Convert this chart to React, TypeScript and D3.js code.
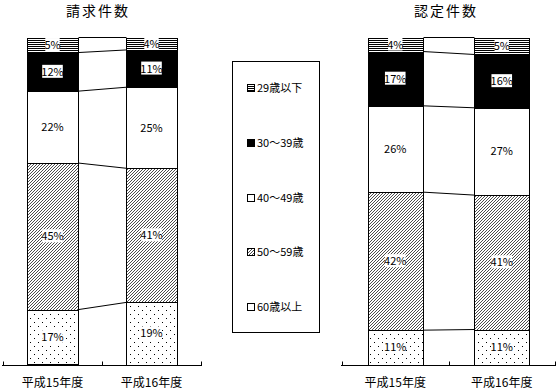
import React from "react";
import * as d3 from "d3";

const ageGroups = ["29歳以下", "30～39歳", "40～49歳", "50～59歳", "60歳以上"];
const years = ["平成15年度", "平成16年度"];
const claimTitle = "請求件数";
const certTitle = "認定件数";
// values per year, stacked top (29歳以下) to bottom (60歳以上)
const claim15 = [4.6, 11.8, 22.0, 44.8, 16.8];
const claim16 = [3.8, 11.4, 24.8, 41.0, 19.0];
const cert15 = [4.3, 16.6, 26.4, 42.2, 10.5];
const cert16 = [5.2, 16.3, 26.7, 41.1, 10.7];
const claimLabels15 = ["5%", "12%", "22%", "45%", "17%"];
const claimLabels16 = ["4%", "11%", "25%", "41%", "19%"];
const certLabels15 = ["4%", "17%", "26%", "42%", "11%"];
const certLabels16 = ["5%", "16%", "27%", "41%", "11%"];

const fills = ["url(#pHoriz)", "#000", "#fff", "url(#pDiag)", "url(#pDots)"];
const FONT = "'Noto Sans CJK JP', 'DejaVu Sans', sans-serif";

const y = d3.scaleLinear().domain([0, 100]).range([364.5, 37.5]);

function stack(vals: number[]) {
  const out: [number, number][] = [];
  let top = 100;
  vals.forEach((v) => {
    out.push([top, top - v]);
    top -= v;
  });
  return out;
}

function Chart({ x0, x1, title, data, labels, titleX }: any) {
  const xs = d3.scalePoint<string>().domain(years).range([x0, x1]).padding(0.5);
  const step = xs.step();
  const bw = Math.round(step * 0.52);
  const stacks = data.map((d: number[]) => stack(d));
  const axisY = 365.5;
  return (
    <g>
      <text x={titleX} y={16} fontSize={14} textAnchor="middle" fontFamily={FONT} letterSpacing={2}>
        {title}
      </text>
      {[0, 1, 2, 3, 4].map((i: number) => {
        const v0 = i === 0 ? 100 : stacks[0][i - 1][1];
        const v1 = i === 0 ? 100 : stacks[1][i - 1][1];
        const xa = Math.round(xs(years[0])! + bw / 2) + 0.5;
        const xb = Math.round(xs(years[1])! - bw / 2) + 0.5;
        return <line key={"c" + i} x1={xa} x2={xb} y1={y(v0)} y2={y(v1)} stroke="#000" strokeWidth={1} />;
      })}
      {years.map((yr, j) => {
        const cx = xs(yr)!;
        const left = Math.round(cx - bw / 2) + 0.5;
        return (
          <g key={yr}>
            {stacks[j].map((s: [number, number], i: number) => (
              <rect
                key={i}
                x={left}
                y={Math.round(y(s[0])) + 0.5}
                width={bw}
                height={Math.round(y(s[1])) - Math.round(y(s[0]))}
                fill={fills[i]}
                stroke="#000"
                strokeWidth={1}
              />
            ))}
            {stacks[j].map((s: [number, number], i: number) => {
              const lbl = labels[j][i];
              const my = (y(s[0]) + y(s[1])) / 2;
              const w = lbl.length * 6.2 + 2;
              return (
                <g key={"l" + i}>
                  <rect x={cx - w / 2} y={my - 7} width={w} height={13} fill="#fff" />
                  <text x={cx} y={my + 4} fontSize={11} textAnchor="middle" fontFamily={FONT}>
                    {lbl}
                  </text>
                </g>
              );
            })}
            <text x={cx} y={387} fontSize={12} textAnchor="middle" fontFamily={FONT}>
              {yr}
            </text>
          </g>
        );
      })}
      <line x1={x0 - 1} x2={x1 + 1} y1={axisY} y2={axisY} stroke="#000" strokeWidth={1} />
      {[x0, x0 + step, x1].map((t, i) => (
        <line key={"t" + i} x1={Math.round(t) + 0.5} x2={Math.round(t) + 0.5} y1={axisY - 4} y2={axisY} stroke="#000" />
      ))}
    </g>
  );
}

export default function App() {
  const legendYs = d3.scalePoint<string>().domain(ageGroups).range([88, 307]);
  return (
    <svg width={557} height={390} style={{ position: "absolute", left: 0, top: 0, background: "#fff" }}>
      <defs>
        <pattern id="pHoriz" width={4} height={2} patternUnits="userSpaceOnUse">
          <rect width={4} height={2} fill="#fff" />
          <rect width={4} height={1} fill="#000" />
        </pattern>
        <pattern id="pDiag" width={3} height={3} patternUnits="userSpaceOnUse">
          <rect width={3} height={3} fill="#fff" />
          <path d="M-1,1 l2,-2 M0,3 l3,-3 M2,4 l2,-2" stroke="#000" strokeWidth={0.7} />
        </pattern>
        <pattern id="pDots" width={8} height={8} patternUnits="userSpaceOnUse">
          <rect width={8} height={8} fill="#fff" />
          <rect x={2} y={2} width={1} height={1} fill="#000" />
          <rect x={6} y={6} width={1} height={1} fill="#000" />
        </pattern>
      </defs>
      <rect width={557} height={390} fill="#fff" />
      <Chart x0={3} x1={201} title={claimTitle} titleX={98} data={[claim15, claim16]} labels={[claimLabels15, claimLabels16]} />
      <Chart x0={342} x1={555} title={certTitle} titleX={446} data={[cert15, cert16]} labels={[certLabels15, certLabels16]} />
      <rect x={232.5} y={61.5} width={87} height={271} fill="#fff" stroke="#000" />
      {ageGroups.map((g, i) => {
        const ly = legendYs(g)!;
        return (
          <g key={g}>
            <rect x={247.5} y={Math.round(ly) - 3.5} width={7} height={7} fill={i === 4 ? "#fff" : fills[i]} stroke="#000" />
            <text x={257} y={ly + 4} fontSize={11} fontFamily={FONT}>
              {g}
            </text>
          </g>
        );
      })}
    </svg>
  );
}
